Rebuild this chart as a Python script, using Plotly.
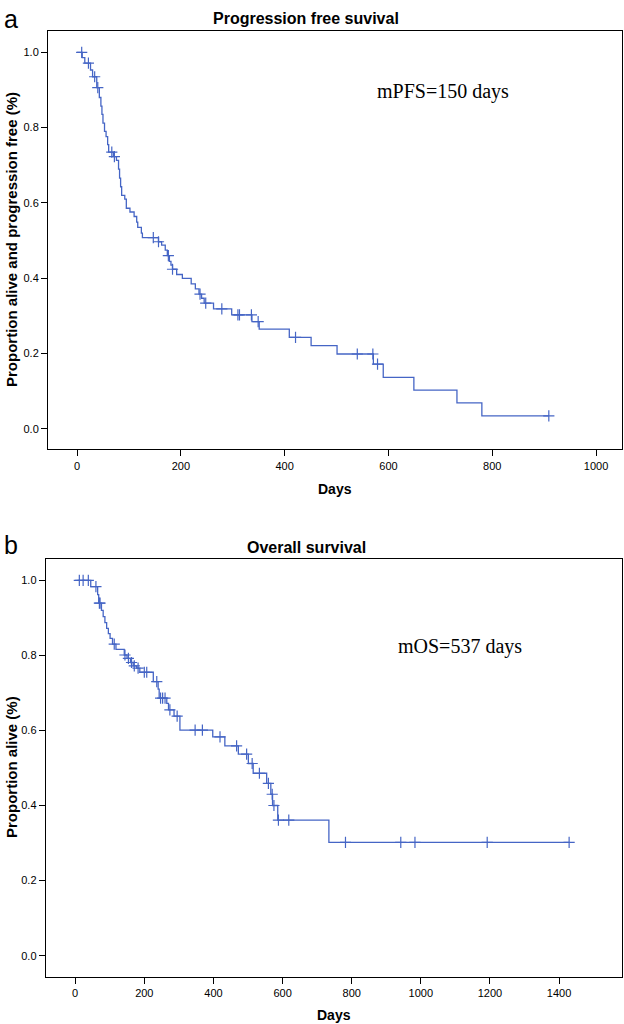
import numpy as np
import plotly.graph_objects as go

# ---------------- data ----------------
pfs_event_days = [0, 10, 15, 26, 30, 38, 43, 46, 48, 50, 53, 56, 59, 61, 70, 76, 80, 82, 84, 86,
                  92, 95, 102, 110, 115, 117, 124, 126, 157, 163, 170, 174, 178, 181, 184, 192,
                  203, 220, 228, 235, 240, 245, 263, 298, 337, 351, 409, 451, 501, 571, 590,
                  649, 732, 780]
pfs_surv = [1.0, 0.986, 0.971, 0.953, 0.935, 0.906, 0.88, 0.857, 0.835, 0.812, 0.79, 0.776,
            0.755, 0.735, 0.723, 0.713, 0.69, 0.666, 0.643, 0.62, 0.61, 0.586, 0.576, 0.564,
            0.549, 0.535, 0.52, 0.508, 0.497, 0.488, 0.475, 0.46, 0.445, 0.435, 0.424, 0.41,
            0.40, 0.385, 0.372, 0.358, 0.347, 0.334, 0.319, 0.303, 0.285, 0.265, 0.243, 0.221,
            0.199, 0.172, 0.137, 0.103, 0.069, 0.035]
pfs_censor_days = [9, 22, 34, 40, 67, 72, 147, 157, 176, 184, 237, 248, 279, 310, 313, 336,
                   349, 421, 540, 570, 579, 909]

os_event_days = [0, 45, 65, 68, 76, 81, 86, 91, 96, 101, 108, 118, 142, 150, 160, 168, 178,
                 187, 226, 240, 243, 265, 270, 286, 303, 398, 433, 472, 501, 515, 554, 566,
                 571, 586, 734]
os_surv = [1.0, 0.983, 0.962, 0.939, 0.92, 0.903, 0.887, 0.872, 0.858, 0.845, 0.83, 0.816,
           0.801, 0.792, 0.781, 0.772, 0.766, 0.755, 0.73, 0.71, 0.686, 0.672, 0.655, 0.638,
           0.601, 0.583, 0.559, 0.537, 0.512, 0.486, 0.459, 0.43, 0.40, 0.361, 0.302]
os_censor_days = [12, 23, 38, 60, 70, 72, 113, 144, 154, 163, 171, 182, 200, 207, 236, 247,
                  253, 260, 274, 295, 347, 368, 419, 467, 496, 512, 533, 559, 570, 575, 588,
                  618, 782, 942, 983, 1192, 1429]

y_ticks = [0.0, 0.2, 0.4, 0.6, 0.8, 1.0]
pfs_x_ticks = [0, 200, 400, 600, 800, 1000]
os_x_ticks = [0, 200, 400, 600, 800, 1000, 1200, 1400]

title_a = "Progression free suvival"
title_b = "Overall survival"
ylabel_a = "Proportion alive and progression free (%)"
ylabel_b = "Proportion alive (%)"
xlabel = "Days"
note_a = "mPFS=150 days"
note_b = "mOS=537 days"

assert len(pfs_event_days) == len(pfs_surv)
assert len(os_event_days) == len(os_surv)

# ---------------- figure ----------------
W, H = 624, 1024
BLUE = "#4565c5"


def px(x):
    return x / W


def py(y):
    return 1 - y / H


def step_value(ev_days, surv, t):
    idx = np.searchsorted(np.asarray(ev_days), np.asarray(t), side="right") - 1
    return np.asarray(surv)[idx]


fig = go.Figure()

panels = [
    (pfs_event_days, pfs_surv, pfs_censor_days, "x", "y"),
    (os_event_days, os_surv, os_censor_days, "x2", "y2"),
]
for ev, sv, cens, xa, ya in panels:
    xs = list(ev) + [max(cens[-1], ev[-1])]
    ys = list(sv) + [sv[-1]]
    fig.add_trace(go.Scatter(x=xs, y=ys, mode="lines", line=dict(color=BLUE, width=1.3, shape="hv"),
                             xaxis=xa, yaxis=ya, showlegend=False, hoverinfo="skip"))
    fig.add_trace(go.Scatter(x=cens, y=step_value(ev, sv, cens), mode="markers",
                             marker=dict(symbol="cross-thin", size=8,
                                         line=dict(color=BLUE, width=1.2)),
                             xaxis=xa, yaxis=ya, showlegend=False, hoverinfo="skip"))

axis_common = dict(showline=True, linecolor="black", linewidth=1, mirror=True,
                   ticks="outside", ticklen=6, tickcolor="black", tickwidth=1,
                   showgrid=False, zeroline=False,
                   tickfont=dict(family="Liberation Sans, Arial", size=11, color="black"))

fig.update_layout(
    width=W, height=H,
    margin=dict(l=0, r=0, t=0, b=0),
    paper_bgcolor="white", plot_bgcolor="white",
    xaxis=dict(domain=[px(48), px(622)], range=[-55.9, 1050], tickvals=pfs_x_ticks,
               anchor="y", **axis_common),
    yaxis=dict(domain=[py(449.3), py(31)], range=[-0.054, 1.0565], tickvals=y_ticks,
               tickformat=".1f", anchor="x", **axis_common),
    xaxis2=dict(domain=[px(45.7), px(622)], range=[-85.3, 1582], tickvals=os_x_ticks,
                anchor="y2", **axis_common),
    yaxis2=dict(domain=[py(976.7), py(558.7)], range=[-0.056, 1.0575], tickvals=y_ticks,
                tickformat=".1f", anchor="x2", **axis_common),
)

bold = dict(family="Liberation Sans, Arial", color="black")
serif = dict(family="Liberation Serif, Times New Roman", color="black")
anns = [
    dict(text="<b>%s</b>" % title_a, x=px(306), y=py(18), font=dict(size=16, **bold)),
    dict(text="<b>%s</b>" % title_b, x=px(306), y=py(547), font=dict(size=16, **bold)),
    dict(text="a", x=px(11), y=py(19), font=dict(size=25, family="Liberation Sans, Arial", color="black")),
    dict(text="b", x=px(11), y=py(545), font=dict(size=25, family="Liberation Sans, Arial", color="black")),
    dict(text="<b>%s</b>" % ylabel_a, x=px(11), y=py(240), textangle=-90, font=dict(size=15, **bold)),
    dict(text="<b>%s</b>" % ylabel_b, x=px(11), y=py(767), textangle=-90, font=dict(size=15, **bold)),
    dict(text="<b>%s</b>" % xlabel, x=px(335), y=py(489), font=dict(size=14, **bold)),
    dict(text="<b>%s</b>" % xlabel, x=px(334), y=py(1015), font=dict(size=14, **bold)),
    dict(text=note_a, x=px(443), y=py(91), font=dict(size=20, **serif)),
    dict(text=note_b, x=px(460), y=py(646), font=dict(size=20, **serif)),
]
for a in anns:
    a.update(xref="paper", yref="paper", showarrow=False, xanchor="center", yanchor="middle")
    fig.add_annotation(**a)

fig.write_html(
    "out.html",
    config={"displayModeBar": False},
    post_script="document.body.style.margin='0';document.body.style.overflow='hidden';",
)
